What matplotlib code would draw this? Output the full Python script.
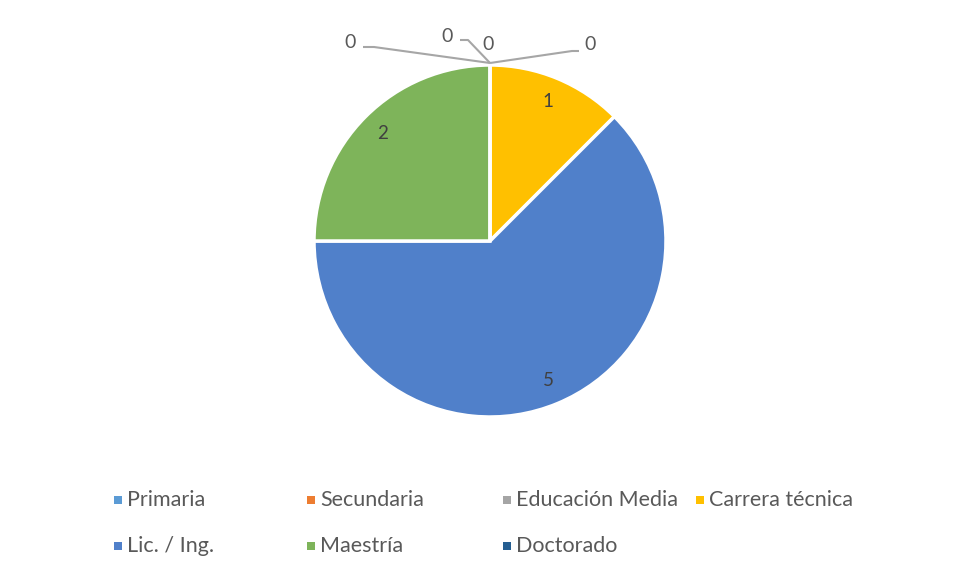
import matplotlib
matplotlib.use("Agg")
import matplotlib.pyplot as plt
import numpy as np

categories = ["Primaria", "Secundaria", "Educación Media", "Carrera técnica",
              "Lic. / Ing.", "Maestría", "Doctorado"]
values = [0, 0, 0, 1, 5, 2, 0]
colors = ["#5B9BD5", "#ED7D31", "#A5A5A5", "#FFC000", "#5080CA", "#7EB45A", "#255E91"]

plt.rcParams['font.family'] = ['Lato', 'DejaVu Sans']

W, H = 960, 578
fig = plt.figure(figsize=(W / 100, H / 100), dpi=100)
ax = fig.add_axes([0, 0, 1, 1])
ax.set_xlim(0, W)
ax.set_ylim(0, H)
ax.set_aspect('equal')
ax.axis('off')

cx, cy, r = 490, H - 241, 176
wedges, _ = ax.pie(values, colors=colors, startangle=90, counterclock=False,
                   center=(cx, cy), radius=r,
                   wedgeprops=dict(edgecolor="white", linewidth=2.5))
ax.set_xlim(0, W)
ax.set_ylim(0, H)

label_color = "#404040"
zero_offsets = {0: (-140, 22, -116), 1: (-43, 29, -22), 2: (-2, 20, None), 6: (100, 20, 82)}
for i, (w, v) in enumerate(zip(wedges, values)):
    mid = np.deg2rad((w.theta1 + w.theta2) / 2)
    if v > 0:
        d = 0.86 * r
        ax.text(cx + d * np.cos(mid), cy + d * np.sin(mid), str(v),
                ha="center", va="center", fontsize=13.5, color=label_color)
    else:
        ex, ey = cx + r * np.cos(mid), cy + r * np.sin(mid)
        dx, dy, elbow = zero_offsets[i]
        lx, ly = ex + dx, ey + dy
        if elbow is not None:
            if dx < 0:
                ax.plot([ex, ex + elbow, lx + 13], [ey + 2, ly - 4, ly - 4],
                        color="#A6A6A6", lw=1.5, solid_capstyle="butt")
            else:
                ax.plot([ex, ex + elbow, lx - 11], [ey + 2, ly - 6, ly - 6],
                        color="#A6A6A6", lw=1.5, solid_capstyle="butt")
        ax.text(lx, ly, "0", ha="center", va="center", fontsize=14, color="#595959")

# legend (manual Excel-like layout)
leg_pos = [(118, 500), (311, 500), (507, 500), (700, 500),
           (118, 546), (311, 546), (507, 546)]
for (x, y), name, c in zip(leg_pos, categories, colors):
    ax.add_patch(plt.Rectangle((x - 4, H - y - 4), 8, 8, color=c, lw=0))
    ax.text(x + 9, H - y, name, ha="left", va="center", fontsize=15.5, color="#595959")

fig.savefig("out.png", dpi=100, facecolor="white")
